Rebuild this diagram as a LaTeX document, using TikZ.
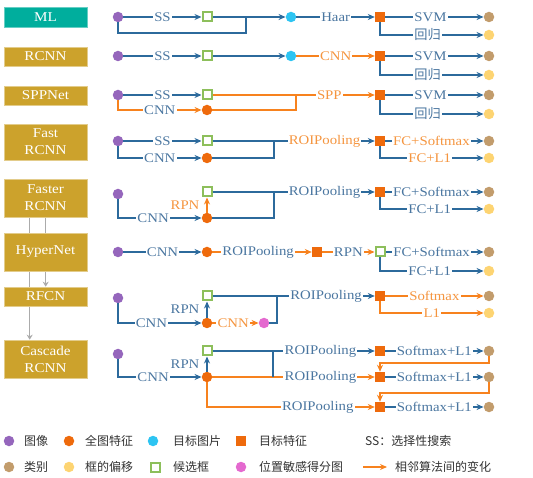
\documentclass[tikz,border=0pt]{standalone}
\usepackage{fontspec}
\setmainfont{Liberation Serif}[FakeStretch=1.12]
\newfontfamily\cjk{Noto Sans CJK SC}
\usetikzlibrary{arrows.meta,positioning,calc}
\definecolor{cteal}{HTML}{00AE9D}
\definecolor{cgold}{HTML}{CCA22C}
\definecolor{cblue}{HTML}{2C6A9C}
\definecolor{ctext}{HTML}{4A76A0}
\definecolor{cline}{HTML}{F7821E}
\definecolor{ctexto}{HTML}{F5953F}
\definecolor{corange}{HTML}{EE6A0C}
\definecolor{cpurple}{HTML}{9566BC}
\definecolor{ccyan}{HTML}{2DC4F2}
\definecolor{ctan}{HTML}{C29C6C}
\definecolor{cyellow}{HTML}{FDD472}
\definecolor{cgreen}{HTML}{8DBF5B}
\definecolor{cmag}{HTML}{E469CF}
\definecolor{cgray}{HTML}{ABABAB}
\definecolor{clegt}{HTML}{333333}
\newcommand\mylabfont{\fontsize{13.2}{14}\selectfont}
\newcommand\myboxfont{\fontsize{13.5}{17}\selectfont}
\newcommand\mylegfont{\cjk\fontsize{12}{14}\selectfont}
\pgfdeclarelayer{bg}
\pgfsetlayers{bg,main}
\tikzset{
 dotc/.style={circle, inner sep=0pt, minimum size=10.5pt},
 img/.style={dotc, fill=cpurple},
 feat/.style={dotc, fill=corange},
 oimg/.style={dotc, fill=ccyan},
 cls/.style={dotc, fill=ctan},
 offs/.style={dotc, fill=cyellow},
 psm/.style={dotc, fill=cmag},
 ofeat/.style={rectangle, inner sep=0pt, minimum size=10pt, fill=corange},
 prop/.style={rectangle, inner sep=0pt, minimum size=9pt, draw=cgreen, line width=2pt, fill=white},
 bl/.style={draw=cblue, line width=1.2pt},
 ol/.style={draw=cline, line width=1.2pt},
 arr/.style={-{Stealth[length=7pt,width=6pt]}},
 lab/.style={fill=white, inner sep=1.2pt, text=ctext, font=\mylabfont},
 olab/.style={lab, text=ctexto},
 sidelab/.style={inner sep=0pt, font=\mylabfont, text=ctext},
 box/.style={fill=cgold, draw=cgold!55!white, line width=0.6pt, minimum width=83pt, text=white, align=center, inner sep=0pt, font=\myboxfont},
 garr/.style={draw=cgray, line width=1pt, -{Stealth[length=5pt,width=6pt]}},
 legt/.style={anchor=west, inner sep=0pt, text=clegt, font=\mylegfont},
}
\begin{document}
\begin{tikzpicture}[x=1pt,y=-1pt]
\useasboundingbox (0,0) rectangle (533,478);
% ---------------- left boxes
\node[box, fill=cteal, draw=cteal!60!white, minimum height=20pt] (ml) at (45.5,17) {ML};
\node[box, minimum height=19pt] (rcnn) at (45.5,56.5) {RCNN};
\node[box, minimum height=19pt] (spp) at (45.5,95.5) {SPPNet};
\node[box, minimum height=36pt] (fast) at (45.5,142) {Fast\\RCNN};
\node[box, minimum height=38pt] (faster) at (45.5,198) {Faster\\RCNN};
\node[box, minimum height=38pt] (hyper) at (45.5,252) {HyperNet};
\node[box, minimum height=19pt] (rfcn) at (45.5,296.5) {RFCN};
\node[box, minimum height=38pt] (casc) at (45.5,359) {Cascade\\RCNN};
\begin{pgfonlayer}{bg}
\draw[garr] ([xshift=26pt]faster.south west) -- ([xshift=26pt]casc.north west);
\draw[garr] ([xshift=42pt]faster.south west) -- ([xshift=42pt]rfcn.north west);
\end{pgfonlayer}
% ---------------- row 1: ML
\node[img] (i1) at (118,17) {};
\node[prop] (p1) at (207,17) {};
\node[oimg] (o1) at (291,17) {};
\node[ofeat] (f1) at (380,17) {};
\node[cls] (c1) at (489,17) {};
\node[offs] (b1) at (489,35) {};
\coordinate (j1) at (246,17);
\coordinate (k1) at (246,33);
\draw[bl,arr] (i1) -- node[lab]{SS} (p1);
\draw[bl,arr] (p1) -- (o1);
\draw[bl] (i1) |- (k1) -- (j1);
\draw[bl,arr] (o1) -- node[lab]{Haar} (f1);
\draw[bl,arr] (f1) -- node[lab,pos=0.46]{SVM} (c1);
\draw[bl,arr] (f1) |- node[lab,pos=0.73]{\cjk 回归} (b1);
% ---------------- row 2: RCNN
\node[img] (i2) at (118,56) {};
\node[prop] (p2) at (207,56) {};
\node[oimg] (o2) at (291,56) {};
\node[ofeat] (f2) at (380,56) {};
\node[cls] (c2) at (489,56) {};
\node[offs] (b2) at (489,75) {};
\draw[bl,arr] (i2) -- node[lab]{SS} (p2);
\draw[bl,arr] (p2) -- (o2);
\draw[ol,arr] (o2) -- node[olab]{CNN} (f2);
\draw[bl,arr] (f2) -- node[lab,pos=0.46]{SVM} (c2);
\draw[bl,arr] (f2) |- node[lab,pos=0.73]{\cjk 回归} (b2);
% ---------------- row 3: SPPNet
\node[img] (i3) at (118,95) {};
\node[prop] (p3) at (207,95) {};
\node[feat] (g3) at (207,110) {};
\node[ofeat] (f3) at (380,95) {};
\node[cls] (c3) at (489,95) {};
\node[offs] (b3) at (489,114) {};
\coordinate (j3) at (296,95);
\draw[bl,arr] (i3) -- node[lab]{SS} (p3);
\draw[ol,arr] (i3) |- node[lab,pos=0.75]{CNN} (g3);
\draw[ol] (g3) -| (j3);
\draw[ol,arr] (p3) -- node[olab,pos=0.72]{SPP} (f3);
\draw[bl,arr] (f3) -- node[lab,pos=0.46]{SVM} (c3);
\draw[bl,arr] (f3) |- node[lab,pos=0.73]{\cjk 回归} (b3);
% ---------------- row 4: Fast RCNN
\node[img] (i4) at (118,141) {};
\node[prop] (p4) at (207,141) {};
\node[feat] (g4) at (207,158) {};
\node[ofeat] (f4) at (380,141) {};
\node[cls] (c4) at (489,141) {};
\node[offs] (b4) at (489,158) {};
\coordinate (j4) at (274,141);
\draw[bl,arr] (i4) -- node[lab]{SS} (p4);
\draw[bl,arr] (i4) |- node[lab,pos=0.75]{CNN} (g4);
\draw[bl] (g4) -| (j4);
\draw[bl,arr] (p4) -- node[olab,pos=0.69]{ROIPooling} (f4);
\draw[bl,arr] (f4) -- node[olab,pos=0.47]{FC+Softmax} (c4);
\draw[bl,arr] (f4) |- node[olab,pos=0.74]{FC+L1} (b4);
% ---------------- row 5: Faster RCNN
\node[img] (i5) at (118,194) {};
\node[prop] (p5) at (207,192) {};
\node[feat] (g5) at (207,218) {};
\node[ofeat] (f5) at (380,192) {};
\node[cls] (c5) at (489,192) {};
\node[offs] (b5) at (489,209) {};
\coordinate (j5) at (274,192);
\draw[bl,arr] (i5) |- node[lab,pos=0.71]{CNN} (g5);
\draw[ol,arr] (g5) -- node[sidelab, text=ctexto, left=7pt]{RPN} (p5);
\draw[bl] (g5) -| (j5);
\draw[bl,arr] (p5) -- node[lab,pos=0.69]{ROIPooling} (f5);
\draw[bl,arr] (f5) -- node[lab,pos=0.47]{FC+Softmax} (c5);
\draw[bl,arr] (f5) |- node[lab,pos=0.74]{FC+L1} (b5);
% ---------------- row 6: HyperNet
\node[img] (i6) at (118,252) {};
\node[feat] (g6) at (207,252) {};
\node[ofeat] (q6) at (317,252) {};
\node[prop] (p6) at (380,252) {};
\node[cls] (c6) at (489,252) {};
\node[offs] (b6) at (489,271) {};
\draw[bl,arr] (i6) -- node[lab]{CNN} (g6);
\draw[ol,arr] (g6) -- node[lab,pos=0.46]{ROIPooling} (q6);
\draw[ol,arr] (q6) -- node[lab]{RPN} (p6);
\draw[bl,arr] (p6) -- node[lab,pos=0.47]{FC+Softmax} (c6);
\draw[bl,arr] (p6) |- node[lab,pos=0.74]{FC+L1} (b6);
% ---------------- row 7: RFCN
\node[img] (i7) at (118,298) {};
\node[prop] (p7) at (207,296) {};
\node[feat] (g7) at (207,323) {};
\node[psm] (m7) at (264,323) {};
\node[ofeat] (f7) at (380,296) {};
\node[cls] (c7) at (489,296) {};
\node[offs] (b7) at (489,313) {};
\coordinate (j7) at (277,296);
\draw[bl,arr] (i7) |- node[lab,pos=0.70]{CNN} (g7);
\draw[bl,arr] (g7) -- node[sidelab, left=7pt]{RPN} (p7);
\draw[ol,arr] (g7) -- node[olab,pos=0.45]{CNN} (m7);
\draw[bl] (m7) -| (j7);
\draw[bl,arr] (p7) -- node[lab,pos=0.70]{ROIPooling} (f7);
\draw[ol,arr] (f7) -- node[olab,pos=0.5]{Softmax} (c7);
\draw[ol,arr] (f7) |- node[olab,pos=0.75]{L1} (b7);
% ---------------- row 8: Cascade RCNN
\node[img] (i8) at (118,354) {};
\node[prop] (p8) at (207,351) {};
\node[feat] (g8) at (207,377) {};
\node[ofeat] (fa) at (380,351) {};
\node[ofeat] (fb) at (380,377) {};
\node[ofeat] (fc) at (380,407) {};
\node[cls] (ca) at (489,351) {};
\node[cls] (cb) at (489,377) {};
\node[cls] (cc) at (489,407) {};
\coordinate (j8a) at (273,351);
\coordinate (j8b) at (273,377);
\coordinate (k8a) at (489,363);
\coordinate (k8b) at (489,393);
\draw[bl,arr] (i8) |- node[lab,pos=0.71]{CNN} (g8);
\draw[bl,arr] (g8) -- node[sidelab, left=7pt]{RPN} (p8);
\draw[bl,arr] (p8) -- node[lab,pos=0.665]{ROIPooling} (fa);
\draw[ol,arr] (g8) -- node[lab,pos=0.665]{ROIPooling} (fb);
\draw[ol,arr] (g8) |- node[lab,pos=0.83]{ROIPooling} (fc);
\draw[bl] (j8a) -- (j8b);
\draw[bl,arr] (fa) -- node[lab,pos=0.5]{Softmax+L1} (ca);
\draw[bl,arr] (fb) -- node[lab,pos=0.5]{Softmax+L1} (cb);
\draw[bl,arr] (fc) -- node[lab,pos=0.5]{Softmax+L1} (cc);
\draw[ol,arr] (ca) -- (k8a) -| (fb);
\draw[ol,arr] (cb) -- (k8b) -| (fc);
% ---------------- legend
\node[img] (lg1) at (9,441) {};
\node[legt] (lt1) at (24,441) {图像};
\node[feat] (lg2) at (69,441) {};
\node[legt] (lt2) at (85,441) {全图特征};
\node[oimg] (lg3) at (153,441) {};
\node[legt] (lt3) at (173,441) {目标图片};
\node[ofeat] (lg4) at (241,441) {};
\node[legt] (lt4) at (259,441) {目标特征};
\node[legt] (lt5) at (365,441) {SS：选择性搜索};
\node[cls] (lg6) at (9,467) {};
\node[legt] (lt6) at (24,467) {类别};
\node[offs] (lg7) at (69,467) {};
\node[legt] (lt7) at (85,467) {框的偏移};
\node[prop] (lg8) at (155,467) {};
\node[legt] (lt8) at (173,467) {候选框};
\node[psm] (lg9) at (241,467) {};
\node[legt] (lt9) at (259,467) {位置敏感得分图};
\coordinate (la1) at (363,467);
\coordinate (la2) at (387,467);
\draw[ol,arr] (la1) -- (la2);
\node[legt] (lt10) at (395,467) {相邻算法间的变化};
\end{tikzpicture}
\end{document}
